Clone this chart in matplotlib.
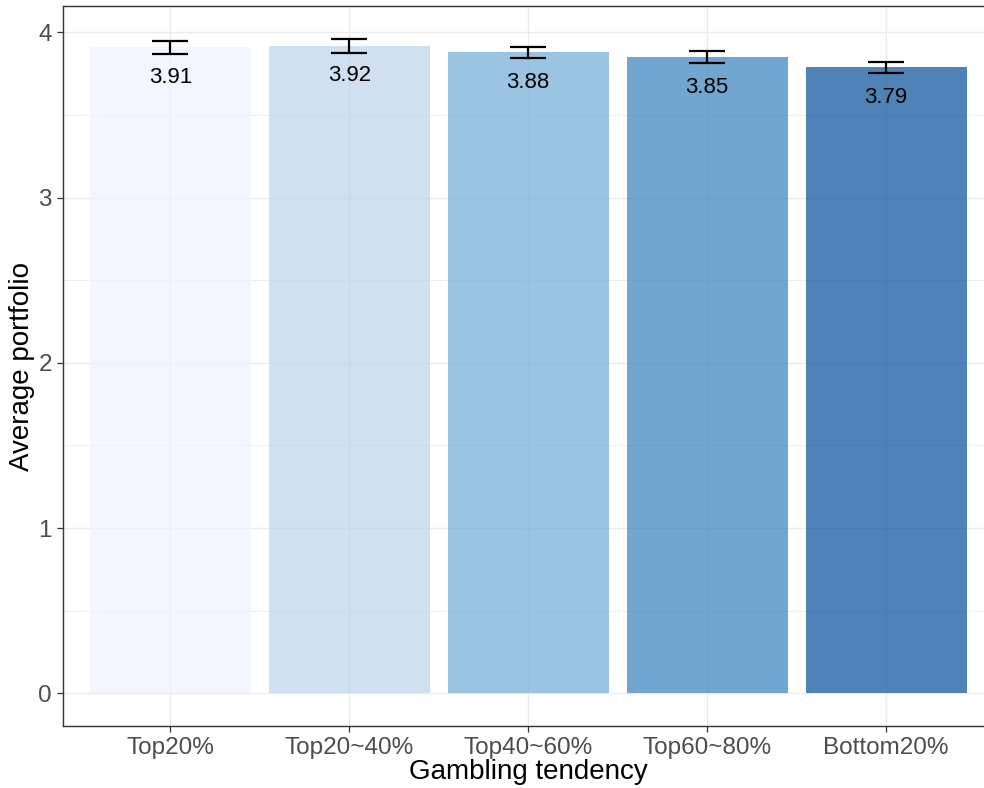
import matplotlib
matplotlib.use("Agg")
import matplotlib.pyplot as plt
from matplotlib.ticker import MultipleLocator
import numpy as np

plt.rcParams['font.family'] = ['Liberation Sans', 'DejaVu Sans']

# Average portfolio by gambling-tendency group
groups = ["Top20%", "Top20~40%", "Top40~60%", "Top60~80%", "Bottom20%"]
means = [3.91, 3.92, 3.88, 3.85, 3.79]
se = [0.040, 0.042, 0.034, 0.035, 0.033]
labels = ["3.91", "3.92", "3.88", "3.85", "3.79"]
colors = ["#EEF3FF", "#BCD4E7", "#6FABD6", "#3481BC", "#054E9A"]

fig = plt.figure(figsize=(9.84, 7.88), dpi=100)
W, H = 984, 788
ax_left, ax_right = 63, 993.4
ax = fig.add_axes([ax_left / W, (H - 726) / H, (ax_right - ax_left) / W, 720 / H])

x = np.arange(1, len(groups) + 1)
ax.bar(x, means, width=0.9, color=colors, alpha=0.7, linewidth=0, zorder=2)
ax.errorbar(x, means, yerr=se, fmt='none', ecolor='black', elinewidth=1.6,
            capsize=13, capthick=1.6, zorder=3)

for xi, m, lab in zip(x, means, labels):
    ax.annotate(lab, xy=(xi, m), xytext=(0, -25.5), textcoords='offset points',
                ha='center', va='baseline', fontsize=16, color='black', zorder=4)

top = max(m + s for m, s in zip(means, se))
ax.set_ylim(-0.05 * top, 1.05 * top)
ax.set_xlim(0.4, len(groups) + 0.6)

ax.set_xticks(x)
ax.set_xticklabels(groups)
ax.yaxis.set_major_locator(MultipleLocator(1))
ax.yaxis.set_minor_locator(MultipleLocator(0.5))

ax.set_axisbelow(True)
ax.grid(which='major', color='#EBEBEB', linewidth=1.0)
ax.grid(which='minor', axis='y', color='#EBEBEB', linewidth=0.6)
ax.tick_params(which='minor', length=0)
ax.tick_params(which='major', length=4, width=0.9, color='#333333',
               labelsize=17.5, labelcolor='#4D4D4D', pad=4)

for sp in ax.spines.values():
    sp.set_color('#333333')
    sp.set_linewidth(1.0)

ax.set_xlabel("Gambling tendency", fontsize=20, color='black', labelpad=0)
ax.set_ylabel("Average portfolio", fontsize=20, color='black', va='center')
ax.yaxis.set_label_coords((22 - ax_left) / (ax_right - ax_left), 0.5)

fig.savefig("out.png", dpi=100)
